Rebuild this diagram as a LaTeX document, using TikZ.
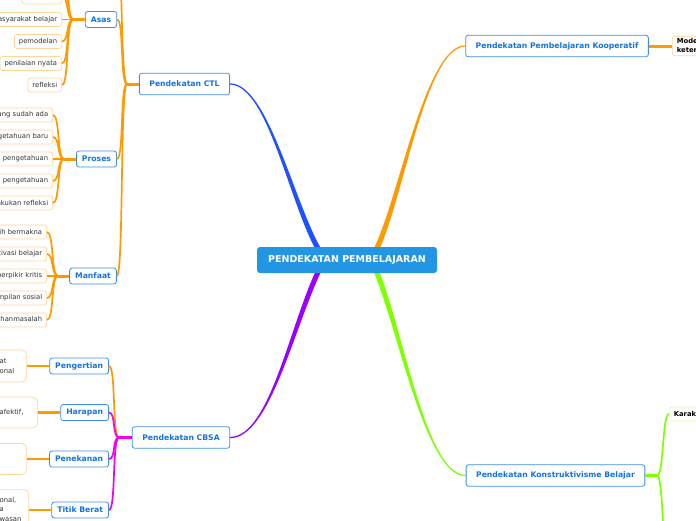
\documentclass[tikz,border=0pt]{standalone}
\usepackage{fontspec}
\setmainfont{DejaVu Sans}
\usepackage{tikz}
\usetikzlibrary{positioning, calc}
\definecolor{rootblue}{HTML}{2396E3}
\definecolor{topicline}{HTML}{3D8FE3}
\definecolor{topictext}{HTML}{1473E6}
\definecolor{ctlblue}{HTML}{2051FF}
\definecolor{branchor}{HTML}{FF9900}
\definecolor{cbsapurple}{HTML}{9B00FF}
\definecolor{cbsapink}{HTML}{F000F0}
\definecolor{konsgreen}{HTML}{80FF00}
\definecolor{leafor}{HTML}{FFD699}
\definecolor{leafgreen}{HTML}{D5FFAD}
\definecolor{leaftext}{HTML}{333333}
\tikzset{
  rootbox/.style={fill=rootblue, text=white, rounded corners=3pt, minimum width=180pt, minimum height=26pt, font=\fontsize{9.5}{11}\selectfont\bfseries},
  topicbox/.style={draw=topicline, fill=white, text=topictext, line width=0.8pt, rounded corners=2.5pt, inner xsep=10pt, minimum height=21.5pt, font=\fontsize{7.7}{9}\selectfont\bfseries},
  subbox/.style={topicbox, inner xsep=5.5pt, minimum height=16pt},
  leaf/.style={draw=leafor, fill=white, text=leaftext, line width=0.7pt, rounded corners=2.5pt, inner xsep=4.5pt, inner ysep=2pt, minimum height=14pt, anchor=east},
  noteleaf/.style={leaf, rounded corners=5pt, align=left, inner xsep=4pt},
  boldleaf/.style={leaf, text=black, font=\fontsize{6.8}{9}\selectfont\bfseries, align=left, anchor=west},
  twig/.style={out=0, in=180, out distance=7pt, in distance=7pt},
  thinor/.style={draw=branchor, line width=1.7pt},
  thickor/.style={draw=branchor, line width=3pt}
}

\begin{document}
\begin{tikzpicture}[x=1pt, y=-1pt, every node/.style={font=\fontsize{6.8}{9.5}\selectfont}]
  \useasboundingbox (0,0) rectangle (696,520);
  \clip (0,0) rectangle (696,520);
  \fill[white] (0,0) rectangle (696,520);

  % Pendekatan CTL
  \node[topicbox] (ctl) at (184.5,84) {Pendekatan CTL};
  \node[subbox] (asas) at (101,19.5) {Asas};
  \node[subbox] (proses) at (96.5,159) {Proses};
  \node[subbox] (manfaat) at (93,276) {Manfaat};
  \coordinate (ctlhub) at (127,84);
  \coordinate (ctlup) at (116,-70);
  \draw[thickor] (ctl.west) -- (ctlhub);
  \draw[thinor] (ctlup) to[twig] (ctlhub);
  \draw[thinor] (asas.east) to[twig] (ctlhub);
  \draw[thinor] (proses.east) to[twig] (ctlhub);
  \draw[thinor] (manfaat.east) to[twig] (ctlhub);

  % Asas
  \node[leaf] (bertanya) at (62,-3) {bertanya};
  \node[leaf] (masyarakat) at (62,19.5) {masyarakat belajar};
  \node[leaf] (pemodelan) at (62,41.5) {pemodelan};
  \node[leaf] (penilaian) at (62,63.5) {penilaian nyata};
  \node[leaf] (refleksi) at (62,85) {refleksi};
  \coordinate (asashub) at (73,19.5);
  \coordinate (asasupa) at (62,-25);
  \coordinate (asasupb) at (62,-47);
  \draw[thickor] (asas.west) -- (asashub);
  \draw[thinor] (asasupa) to[twig] (asashub);
  \draw[thinor] (asasupb) to[twig] (asashub);
  \draw[thinor] (bertanya.east) to[twig] (asashub);
  \draw[thinor] (masyarakat.east) to[twig] (asashub);
  \draw[thinor] (pemodelan.east) to[twig] (asashub);
  \draw[thinor] (penilaian.east) to[twig] (asashub);
  \draw[thinor] (refleksi.east) to[twig] (asashub);

  % Proses
  \node[leaf] (aktif) at (53,115) {mengaktifkan pengetahuan yang sudah ada};
  \node[leaf] (peroleh) at (53,137) {memperoleh pengetahuan baru};
  \node[leaf] (paham) at (53,159) {pemahaman pengetahuan};
  \node[leaf] (terap) at (53,181) {menerapkan pengetahuan};
  \node[leaf] (lakukan) at (53,203) {melakukan refleksi};
  \coordinate (proseshub) at (64,159);
  \draw[thickor] (proses.west) -- (proseshub);
  \draw[thinor] (aktif.east) to[twig] (proseshub);
  \draw[thinor] (peroleh.east) to[twig] (proseshub);
  \draw[thinor] (paham.east) to[twig] (proseshub);
  \draw[thinor] (terap.east) to[twig] (proseshub);
  \draw[thinor] (lakukan.east) to[twig] (proseshub);

  % Manfaat
  \node[leaf] (makna) at (47,232) {lebih bermakna};
  \node[leaf] (motivasi) at (47,254) {motivasi belajar};
  \node[leaf] (kritis) at (47,276) {berpikir kritis};
  \node[leaf] (sosial) at (47,298) {keterampilan sosial};
  \node[leaf] (masalah) at (47,320) {pemecahanmasalah};
  \coordinate (manfaathub) at (58,276);
  \draw[thickor] (manfaat.west) -- (manfaathub);
  \draw[thinor] (makna.east) to[twig] (manfaathub);
  \draw[thinor] (motivasi.east) to[twig] (manfaathub);
  \draw[thinor] (kritis.east) to[twig] (manfaathub);
  \draw[thinor] (sosial.east) to[twig] (manfaathub);
  \draw[thinor] (masalah.east) to[twig] (manfaathub);

  % Pendekatan CBSA
  \node[topicbox] (cbsa) at (181,437.5) {Pendekatan CBSA};
  \node[subbox, anchor=east] (pengertian) at (109,366) {Pengertian};
  \node[subbox, anchor=east] (harapan) at (109,412.5) {Harapan};
  \node[subbox, anchor=east] (penekanan) at (109,459) {Penekanan};
  \node[subbox, anchor=east] (titik) at (109,510) {Titik Berat};
  \coordinate (cbsahub) at (119,437.5);
  \draw[cbsapink, line width=3pt] (cbsa.west) -- (cbsahub);
  \draw[thinor] (pengertian.east) to[twig] (cbsahub);
  \draw[cbsapink, line width=1.7pt] (harapan.east) to[twig] (cbsahub);
  \draw[cbsapink, line width=1.7pt] (penekanan.east) to[twig] (cbsahub);
  \draw[cbsapink, line width=1.7pt] (titik.east) to[twig] (cbsahub);
  \node[noteleaf, text width=23pt, minimum height=32pt] (pengertiannote) at (27,366) {at\\onal};
  \node[noteleaf, text width=34pt, minimum height=31pt] (harapannote) at (38,412.5) {afektif,};
  \node[noteleaf, text width=23pt, minimum height=31pt] (penekanannote) at (27,459) {};
  \node[noteleaf, text width=25pt, minimum height=40pt, anchor=north east] (titiknote) at (29,489) {onal,\\a\\wasan};
  \draw[branchor, line width=2.4pt] (pengertian.west) -- (pengertiannote.east);
  \draw[branchor, line width=2.4pt] (harapan.west) -- (harapannote.east);
  \draw[branchor, line width=2.4pt] (penekanan.west) -- (penekanannote.east);
  \draw[branchor, line width=2.4pt] (titik.west) -- (titiknote.east |- titik.west);

  % Pendekatan Pembelajaran Kooperatif
  \node[topicbox] (koop) at (557,46) {Pendekatan Pembelajaran Kooperatif};
  \node[boldleaf] (model) at (672,46) {Model\\keterampilan};
  \draw[thickor] (koop.east) -- (model.west);

  % Pendekatan Konstruktivisme Belajar
  \node[topicbox] (konst) at (555.5,475.5) {Pendekatan Konstruktivisme Belajar};
  \node[boldleaf, draw=leafgreen] (karak) at (669,414) {Karakteristik};
  \coordinate (konshub) at (657,475.5);
  \coordinate (konsdown) at (669,570);
  \draw[konsgreen, line width=3pt] (konst.east) -- (konshub);
  \draw[konsgreen, line width=1.7pt] (konshub) to[twig] (karak.west);
  \draw[konsgreen, line width=1.7pt] (konshub) to[twig] (konsdown);

  % main branches, tapered towards the root
  \coordinate (hubctl) at (320,252);
  \coordinate (hubkoop) at (375,252);
  \coordinate (hubcbsa) at (320,268);
  \coordinate (hubkonst) at (375,268);
  \fill[ctlblue] ($(ctl.east)+(0,-0.6)$) .. controls (268,83) and (294.2,203.7) .. ($(hubctl)+(2.2,-1.3)$)
    -- ($(hubctl)+(-2.2,1.3)$) .. controls (289.8,206.3) and (268,85) .. ($(ctl.east)+(0,0.6)$) -- cycle;
  \fill[branchor] ($(koop.west)+(0,-0.6)$) .. controls (425,45) and (397.7,203.8) .. ($(hubkoop)+(-2.3,-1.2)$)
    -- ($(hubkoop)+(2.3,1.2)$) .. controls (402.3,206.2) and (425,47) .. ($(koop.west)+(0,0.6)$) -- cycle;
  \fill[cbsapurple] ($(cbsa.east)+(0,-0.6)$) .. controls (270,436.5) and (289.7,323.9) .. ($(hubcbsa)+(-2.3,-1.1)$)
    -- ($(hubcbsa)+(2.3,1.1)$) .. controls (294.3,326.1) and (270,438.5) .. ($(cbsa.east)+(0,0.6)$) -- cycle;
  \fill[konsgreen] ($(konst.west)+(0,-0.6)$) .. controls (425,474.5) and (402.4,324) .. ($(hubkonst)+(2.4,-1)$)
    -- ($(hubkonst)+(-2.4,1)$) .. controls (397.6,326) and (425,476.5) .. ($(konst.west)+(0,0.6)$) -- cycle;

  % root
  \node[rootbox] (root) at (347,260) {PENDEKATAN PEMBELAJARAN};
\end{tikzpicture}
\end{document}
